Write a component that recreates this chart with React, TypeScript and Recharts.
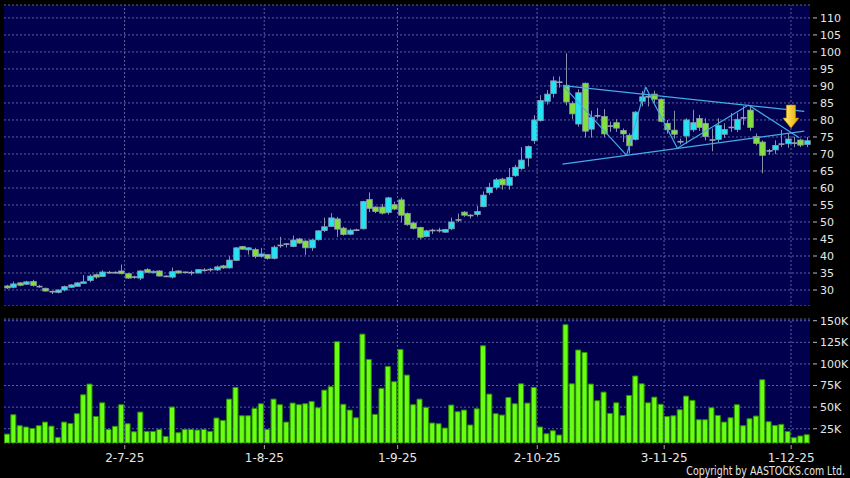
import {
  Bar,
  CartesianGrid,
  ComposedChart,
  ReferenceDot,
  ReferenceLine,
  XAxis,
  YAxis,
} from "recharts";

// Daily candles, 127 sessions (early Jun 2025 -> 3 Dec 2025).
const OPEN = [
  31.2, 30.8, 32.1, 31.7, 32.5, 31.0, 30.5, 29.5, 29.3, 30.0,
  30.8, 31.1, 32.3, 32.8, 34.5, 34.0, 35.1, 35.1, 35.6, 34.8,
  33.8, 33.5, 36.0, 35.2, 35.6, 34.0, 33.8, 35.6, 35.2, 35.1,
  35.0, 35.8, 36.0, 35.9, 37.1, 36.5, 38.7, 42.8, 41.8, 41.9,
  39.9, 40.4, 39.3, 43.1, 43.5, 42.8, 45.0, 44.4, 42.4, 44.8,
  47.5, 48.7, 50.9, 48.2, 46.4, 47.6, 48.0, 56.6, 54.4, 54.4,
  52.8, 55.1, 56.5, 52.5, 49.7, 48.4, 45.7, 47.5, 47.5, 47.0,
  48.0, 50.6, 52.9, 51.9, 52.2, 54.5, 58.6, 60.2, 62.6, 60.8,
  63.6, 65.7, 68.8, 73.9, 79.8, 85.5, 87.8, 91.1, 90.2, 84.9,
  78.8, 90.8, 77.3, 81.2, 81.0, 78.2, 79.2, 76.9, 75.5, 74.3,
  85.5, 86.8, 87.6, 86.1, 79.0, 77.0, 73.6, 75.3, 77.1, 80.4,
  79.0, 74.1, 74.3, 75.8, 77.8, 77.2, 80.6, 82.9, 75.1, 73.5,
  70.9, 71.2, 72.9, 73.0, 73.2, 74.1, 72.8,
];
const HIGH = [
  31.5, 32.5, 32.3, 32.7, 33.0, 31.5, 30.7, 29.8, 30.2, 31.3,
  31.7, 32.3, 34.4, 34.6, 34.8, 35.8, 35.6, 35.5, 37.5, 35.0,
  34.2, 35.8, 36.4, 35.8, 35.8, 34.3, 36.6, 35.8, 35.4, 35.7,
  36.2, 36.4, 36.5, 37.2, 37.4, 39.9, 42.6, 43.0, 42.6, 42.4,
  42.4, 40.6, 43.1, 45.6, 43.8, 46.0, 45.3, 44.6, 45.0, 47.6,
  51.3, 52.6, 51.5, 48.6, 48.0, 48.0, 56.2, 58.7, 54.6, 55.3,
  57.4, 56.0, 57.2, 52.8, 50.0, 48.6, 47.7, 48.0, 48.3, 48.0,
  51.3, 52.5, 53.2, 52.3, 54.7, 59.0, 61.5, 62.9, 63.0, 65.9,
  66.8, 72.0, 72.5, 81.4, 87.3, 88.8, 92.8, 92.8, 99.6, 85.5,
  89.0, 91.0, 82.7, 83.5, 83.2, 79.5, 80.2, 77.5, 76.1, 82.6,
  88.5, 87.5, 88.6, 86.3, 80.0, 82.7, 74.5, 80.5, 83.0, 81.5,
  80.5, 77.5, 80.5, 79.0, 82.0, 82.0, 84.0, 84.0, 76.0, 74.0,
  71.5, 74.0, 77.1, 76.0, 75.1, 74.5, 75.0,
];
const LOW = [
  30.3, 30.5, 31.1, 31.5, 31.0, 30.7, 29.5, 28.8, 29.0, 29.6,
  30.6, 31.0, 32.2, 32.3, 33.3, 33.8, 34.9, 34.8, 34.6, 33.3,
  33.3, 32.9, 35.0, 35.0, 34.0, 33.8, 33.4, 34.8, 34.9, 34.3,
  34.9, 35.4, 35.4, 35.6, 36.2, 36.3, 38.5, 41.8, 40.4, 39.3,
  39.5, 38.9, 39.0, 42.4, 42.5, 42.6, 43.5, 40.3, 41.5, 44.5,
  47.0, 48.5, 45.6, 46.0, 46.1, 47.3, 47.8, 52.9, 52.6, 52.2,
  52.2, 53.5, 49.9, 48.9, 47.8, 44.9, 45.5, 46.5, 46.9, 46.8,
  47.6, 50.0, 51.5, 51.0, 51.6, 54.3, 58.0, 59.5, 59.5, 59.5,
  63.3, 65.3, 66.3, 73.0, 79.5, 84.5, 86.6, 89.5, 84.3, 80.3,
  78.0, 74.8, 74.8, 80.5, 74.9, 76.5, 76.5, 73.5, 70.2, 74.0,
  84.0, 84.0, 85.0, 79.3, 76.0, 74.5, 72.8, 73.0, 76.5, 76.8,
  74.0, 70.8, 73.5, 74.7, 76.5, 76.5, 78.5, 76.8, 72.5, 64.3,
  69.8, 70.0, 72.0, 71.8, 72.0, 72.0, 72.0,
];
const CLOSE = [
  30.6, 31.8, 31.4, 32.4, 31.3, 31.0, 29.7, 29.5, 30.0, 31.0,
  31.5, 32.1, 32.4, 34.1, 33.8, 35.3, 35.1, 35.1, 34.8, 33.5,
  33.8, 35.6, 35.2, 35.5, 34.1, 34.0, 35.4, 35.0, 35.2, 35.1,
  36.0, 35.8, 36.0, 36.8, 36.5, 38.8, 42.4, 42.0, 42.4, 39.9,
  40.6, 39.3, 42.6, 43.1, 43.5, 44.7, 43.8, 42.4, 44.7, 47.4,
  48.6, 51.2, 47.9, 46.3, 47.6, 47.6, 56.0, 54.0, 53.1, 52.6,
  57.1, 53.8, 52.0, 49.2, 48.1, 45.5, 47.4, 47.5, 47.5, 47.8,
  50.0, 50.6, 52.0, 51.9, 53.1, 57.9, 60.2, 62.4, 60.9, 63.1,
  66.1, 68.2, 72.2, 80.0, 85.7, 87.6, 91.5, 91.1, 85.3, 81.8,
  88.0, 76.7, 80.8, 81.2, 75.9, 78.2, 77.6, 75.9, 72.4, 82.3,
  86.8, 86.8, 86.1, 79.6, 77.1, 75.8, 73.6, 80.0, 79.2, 77.8,
  75.1, 74.1, 78.4, 77.2, 77.8, 80.2, 80.6, 77.8, 73.1, 69.6,
  70.9, 72.5, 72.9, 74.4, 73.2, 72.6, 73.9,
];
// volume in thousands of shares
const VOLUME = [
  18.8, 41.2, 28.5, 27.0, 25.4, 28.5, 32.7, 28.0, 15.0, 32.7,
  31.0, 42.4, 64.3, 76.7, 39.2, 55.0, 24.2, 27.8, 52.8, 30.8,
  21.5, 44.3, 21.9, 21.9, 24.2, 16.1, 50.1, 20.4, 24.2, 24.2,
  23.5, 24.2, 21.9, 37.4, 34.6, 59.3, 72.8, 40.0, 40.0, 48.5,
  53.9, 24.2, 59.3, 52.8, 32.7, 54.7, 52.8, 53.9, 56.6, 49.3,
  69.7, 73.6, 125.7, 53.3, 46.6, 37.7, 134.5, 105.2, 41.6, 71.7,
  97.1, 79.4, 116.8, 87.1, 52.8, 59.3, 49.7, 31.6, 30.8, 25.8,
  52.4, 44.7, 46.6, 29.3, 48.1, 121.0, 65.1, 42.4, 40.8, 61.2,
  53.9, 77.0, 54.7, 72.8, 27.0, 19.2, 22.7, 17.7, 145.4, 77.0,
  116.1, 113.3, 76.7, 57.4, 67.4, 42.7, 55.0, 40.4, 63.5, 86.0,
  77.0, 55.0, 61.6, 53.3, 39.2, 40.0, 47.0, 62.8, 57.8, 35.4,
  35.4, 49.3, 40.4, 32.7, 37.7, 52.8, 28.5, 36.6, 39.7, 81.7,
  33.1, 28.8, 30.0, 21.9, 14.6, 16.6, 18.1,
];

// first session of each month (index into the arrays above) and its label
const TICK_IDX = [19, 41, 62, 84, 104, 124];
const TICK_LABELS = ["2-7-25", "1-8-25", "1-9-25", "2-10-25", "3-11-25", "1-12-25"];
const PRICE_TICKS = [30, 35, 40, 45, 50, 55, 60, 65, 70, 75, 80, 85, 90, 95, 100, 105, 110];
const VOL_TICKS = [25, 50, 75, 100, 125, 150];

// hand-drawn triangle on the chart: [session position, price]
const UPPER_TREND = [[87.6, 90.1], [125.6, 82.5]];
const LOWER_TREND = [[87.5, 67.0], [125.6, 76.7]];
const ZIGZAG = [[87.6, 90.1], [97.6, 69.6], [100.6, 89.7], [105.6, 71.7], [116.8, 84.4], [124.8, 74.8]];
const ARROW_AT = [123.5, 77.6];

const UP = "#22e4f2";
const DOWN = "#82e03c";
const FLAT = "#9aa6b8";
const WICK = "#8593a8";
const PLOT_BG = "#00004e";
const GRID = "#56649c";
const TREND = "#45aae6";
const TEXT = "#e6e6e6";
const FONT = "DejaVu Sans, Verdana, sans-serif";
const N = OPEN.length;

const data = OPEN.map((o, i) => ({
  idx: i,
  o,
  h: HIGH[i],
  l: LOW[i],
  c: CLOSE[i],
  range: [LOW[i], HIGH[i]],
  vol: VOLUME[i],
}));

const segments = (pts: number[][]) =>
  pts.slice(1).map((p, k) => [
    { x: pts[k][0], y: pts[k][1] },
    { x: p[0], y: p[1] },
  ]);
const trendSegments = [
  ...segments(UPPER_TREND),
  ...segments(LOWER_TREND),
  ...segments(ZIGZAG),
];

function Candle(props: any) {
  const { x, y, width, height } = props;
  const d = props.payload ?? props;
  const { o, h, l, c } = d;
  const k = h > l ? height / (h - l) : 0;
  const yOf = (v: number) => y + (h - v) * k;
  const cx = Math.round(x + width / 2) + 0.5;
  const color = c > o ? UP : c < o ? DOWN : FLAT;
  const top = yOf(Math.max(o, c));
  const bot = yOf(Math.min(o, c));
  return (
    <g>
      <line x1={cx} x2={cx} y1={y} y2={y + height} stroke={WICK} strokeWidth={1} />
      {c === o ? (
        <line x1={cx - 3} x2={cx + 3} y1={top} y2={top} stroke={FLAT} strokeWidth={1.6} />
      ) : (
        <rect
          x={cx - 2.8}
          y={top}
          width={5.6}
          height={Math.max(bot - top, 1.5)}
          fill={color}
          stroke="#8c9cb2"
          strokeWidth={0.8}
        />
      )}
    </g>
  );
}

function Arrow(props: any) {
  const { cx, cy } = props;
  const pts = [
    [cx - 4.6, cy - 23], [cx + 4.6, cy - 23], [cx + 4.6, cy - 10], [cx + 8, cy - 10],
    [cx, cy], [cx - 8, cy - 10], [cx - 4.6, cy - 10],
  ].map((p) => p.join(",")).join(" ");
  return (
    <g>
      <defs>
        <linearGradient id="arrowFill" x1="0" x2="1" y1="0" y2="0">
          <stop offset="0" stopColor="#fff27a" />
          <stop offset="1" stopColor="#e9a800" />
        </linearGradient>
      </defs>
      <polygon points={pts} fill="url(#arrowFill)" stroke="#c58a00" strokeWidth={0.6} />
    </g>
  );
}

function RightTick(props: any) {
  const { x, y, payload, suffix } = props;
  return (
    <g>
      <line x1={x - 7} x2={x - 3} y1={y} y2={y} stroke="#bbbbbb" />
      <text x={x} y={y} dy="0.36em" fontSize={11} fontFamily={FONT} fill={TEXT}>
        {payload.value}
        {suffix}
      </text>
    </g>
  );
}

// labels sit on the month boundary (left edge of the session's slot)
function DateTick(props: any) {
  const { x, y, payload } = props;
  const bx = x - 3;
  return (
    <g>
      <line x1={bx} x2={bx} y1={y - 8} y2={y - 4} stroke="#aaaaaa" />
      <text x={bx} y={y} dy="0.71em" textAnchor="middle" fontSize={12} fontFamily={FONT} fill={TEXT}>
        {TICK_LABELS[TICK_IDX.indexOf(payload.value)]}
      </text>
    </g>
  );
}

// hidden numeric twin of the category axis, so boundaries / annotations can fall between sessions
const numAxis = (
  <XAxis
    xAxisId="num"
    dataKey="idx"
    type="number"
    domain={[-0.5, N - 0.5]}
    allowDataOverflow
    hide
  />
);
const monthLines = TICK_IDX.map((i) => (
  <ReferenceLine key={i} xAxisId="num" x={i - 0.5} stroke={GRID} strokeDasharray="2 2" />
));

export default function App() {
  return (
    <div
      style={{
        position: "absolute",
        left: 0,
        top: 0,
        width: 850,
        height: 478,
        background: "#000",
        overflow: "hidden",
      }}
    >
      <div style={{ position: "absolute", left: 0, top: 0 }}>
        <ComposedChart
          width={850}
          height={306}
          data={data}
          margin={{ top: 5, right: 0, bottom: 0, left: 4 }}
          barCategoryGap="10%"
        >
          <CartesianGrid
            vertical={false}
            stroke={GRID}
            strokeDasharray="2 2"
            fill={PLOT_BG}
            fillOpacity={1}
          />
          <XAxis dataKey="idx" type="category" hide />
          {numAxis}
          <YAxis
            orientation="right"
            width={40}
            domain={[25.3, 113.8]}
            ticks={PRICE_TICKS}
            allowDataOverflow
            axisLine={false}
            tickLine={false}
            tickSize={0}
            tickMargin={10}
            interval={0}
            tick={<RightTick suffix="" />}
          />
          {monthLines}
          <Bar dataKey="range" shape={<Candle />} isAnimationActive={false} />
          {trendSegments.map((s, k) => (
            <ReferenceLine key={k} xAxisId="num" segment={s} stroke={TREND} strokeWidth={1.2} />
          ))}
          <ReferenceDot xAxisId="num" x={ARROW_AT[0]} y={ARROW_AT[1]} shape={<Arrow />} />
        </ComposedChart>
      </div>

      <div style={{ position: "absolute", left: 0, top: 314 }}>
        <ComposedChart
          width={850}
          height={159}
          data={data}
          margin={{ top: 5, right: 0, bottom: 0, left: 4 }}
          barCategoryGap="8%"
        >
          <CartesianGrid
            vertical={false}
            stroke={GRID}
            strokeDasharray="2 2"
            fill={PLOT_BG}
            fillOpacity={1}
          />
          <XAxis
            dataKey="idx"
            type="category"
            height={30}
            ticks={TICK_IDX}
            interval={0}
            axisLine={false}
            tickLine={false}
            tickSize={0}
            tickMargin={10}
            tick={<DateTick />}
          />
          {numAxis}
          <YAxis
            orientation="right"
            width={40}
            domain={[8.5, 152]}
            ticks={VOL_TICKS}
            allowDataOverflow
            axisLine={false}
            tickLine={false}
            tickSize={0}
            tickMargin={10}
            interval={0}
            tick={<RightTick suffix="K" />}
          />
          {monthLines}
          <Bar dataKey="vol" fill="#68ff14" stroke="#2f8f00" strokeWidth={1} isAnimationActive={false} />
        </ComposedChart>
      </div>

      <svg width={850} height={478} style={{ position: "absolute", left: 0, top: 0, pointerEvents: "none" }}>
        {/* the source uses a narrow face: squeeze DejaVu horizontally */}
        <text
          transform="translate(845 475) scale(0.786 1)"
          textAnchor="end"
          fontSize={12}
          fontFamily={FONT}
          fill={TEXT}
        >
          Copyright by AASTOCKS.com Ltd.
        </text>
      </svg>
    </div>
  );
}
